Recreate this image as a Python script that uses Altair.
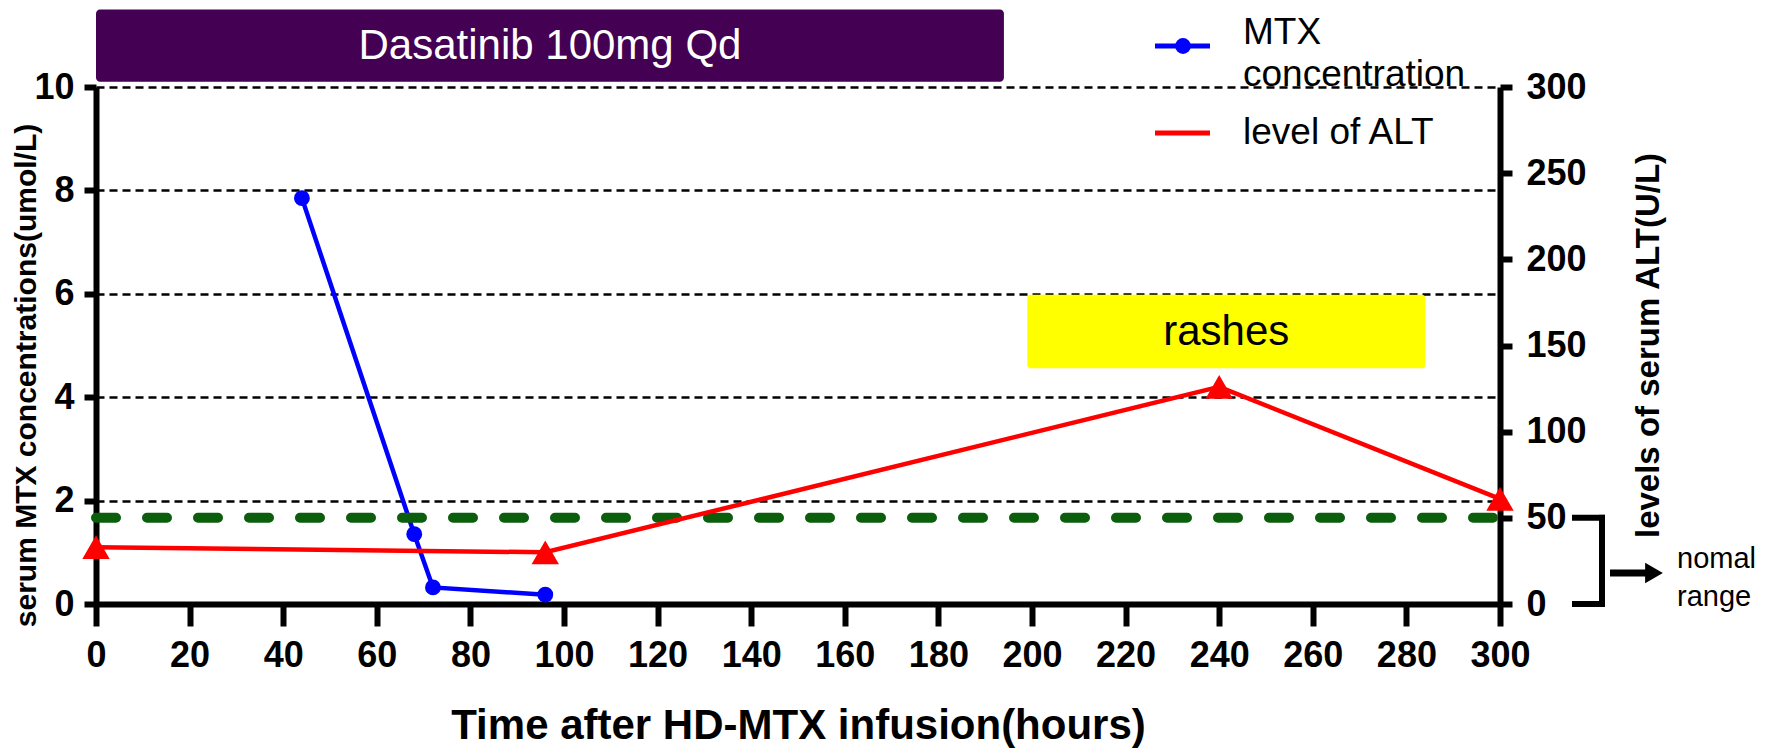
import altair as alt
import pandas as pd

F = "Liberation Sans"

# ---- data ----
mtx_hours = [44, 68, 72, 96]
mtx_conc = [7.85, 1.35, 0.32, 0.18]

alt_hours = [0, 96, 240, 300]
alt_level = [33, 30, 126, 61]

normal_upper = 50          # ALT upper limit of normal range (U/L)
normal_lower = 0

drug_label = ["Dasatinib 100mg Qd"]
drug_start = [0]
drug_end = [194]

rash_label = ["rashes"]
rash_start = [199]
rash_end = [284]
rash_low = [4.56]
rash_high = [5.98]

legend_labels = ["MTX\nconcentration", "level of ALT"]
range_label = ["nomal\nrange"]

x_ticks = list(range(0, 301, 20))
yl_ticks = [0, 2, 4, 6, 8, 10]
yr_ticks = [0, 50, 100, 150, 200, 250, 300]

# ---- scales & axes ----
xs = alt.Scale(domain=[0, 300], nice=False, zero=False)
yls = alt.Scale(domain=[0, 10], nice=False)
yrs = alt.Scale(domain=[0, 300], nice=False)

common = dict(
    domainColor="black", domainWidth=6, tickColor="black", tickWidth=6,
    labelFont=F, labelFontSize=36, labelFontWeight="bold", labelColor="black",
    labelFlush=False, labelOverlap=False,
    titleFont=F, titleFontWeight="bold", titleColor="black",
)

x_axis = alt.Axis(values=x_ticks, grid=False, tickSize=22, labelPadding=12,
                  title="Time after HD-MTX infusion(hours)", titleFontSize=42,
                  titleY=134, titleBaseline="alphabetic", **common)
yl_axis = alt.Axis(orient="left", values=yl_ticks, grid=True, gridColor="black",
                   gridDash=[8, 5], gridWidth=2.5, tickSize=12, labelPadding=10,
                   title="serum MTX concentrations(umol/L)", titleFontSize=30,
                   titleX=-61, titleY=288, titleBaseline="alphabetic", **common)
yr_axis = alt.Axis(orient="right", values=yr_ticks, grid=False, tickSize=12,
                   labelPadding=14, title="levels of serum ALT(U/L)",
                   titleFontSize=33, titleAngle=270, titleX=158, titleY=258,
                   titleBaseline="alphabetic", **common)

df_mtx = pd.DataFrame({"hours": mtx_hours, "conc": mtx_conc})
df_alt = pd.DataFrame({"hours": alt_hours, "level": alt_level})
df_drug = pd.DataFrame({
    "start": drug_start, "end": drug_end, "label": drug_label,
    "low": [10.1], "high": [11.5],
})
df_drug["mid"] = (df_drug["start"] + df_drug["end"]) / 2
df_drug["ymid"] = (df_drug["low"] + df_drug["high"]) / 2
df_rash = pd.DataFrame({
    "start": rash_start, "end": rash_end, "label": rash_label,
    "low": rash_low, "high": rash_high,
})
df_rash["mid"] = (df_rash["start"] + df_rash["end"]) / 2
df_rash["ymid"] = (df_rash["low"] + df_rash["high"]) / 2
df_norm = pd.DataFrame({"x0": [0], "x1": [300], "upper": [normal_upper],
                        "lower": [normal_lower], "arrow": [18], "texty": [26],
                        "label": range_label})
df_one = pd.DataFrame({"a": [0]})


def X(f):
    return alt.X(f, scale=xs, axis=x_axis)


def YL(f):
    return alt.Y(f, scale=yls, axis=yl_axis)


def YR(f):
    return alt.Y(f, scale=yrs, axis=yr_axis)


# ---- left (MTX) layer ----
mtx_line = alt.Chart(df_mtx).mark_line(color="#0000ff", strokeWidth=4.5).encode(
    x=X("hours:Q"), y=YL("conc:Q"))
mtx_pts = alt.Chart(df_mtx).mark_point(filled=True, shape="circle", size=250,
                                       color="#0000ff", opacity=1).encode(
    x=X("hours:Q"), y=YL("conc:Q"))

drug_rect = alt.Chart(df_drug).mark_rect(color="#440154", cornerRadius=4).encode(
    x=X("start:Q"), x2="end:Q", y=YL("low:Q"), y2="high:Q")
drug_text = alt.Chart(df_drug).mark_text(color="white", font=F, fontSize=42,
                                         baseline="middle").encode(
    x=X("mid:Q"), y=YL("ymid:Q"), text="label:N")

rash_rect = alt.Chart(df_rash).mark_rect(color="#ffff00", cornerRadius=3).encode(
    x=X("start:Q"), x2="end:Q", y=YL("low:Q"), y2="high:Q")
rash_text = alt.Chart(df_rash).mark_text(color="black", font=F, fontSize=42,
                                         baseline="middle").encode(
    x=X("mid:Q"), y=YL("ymid:Q"), text="label:N")

# legend (drawn manually)
leg_blue = alt.Chart(df_one).mark_rule(color="#0000ff", strokeWidth=5).encode(
    x=alt.value(1059), x2=alt.value(1114), y=alt.value(-41))
leg_dot = alt.Chart(df_one).mark_point(filled=True, shape="circle", size=250,
                                       color="#0000ff", opacity=1).encode(
    x=alt.value(1087), y=alt.value(-41))
leg_red = alt.Chart(df_one).mark_rule(color="#ff0000", strokeWidth=5).encode(
    x=alt.value(1059), x2=alt.value(1114), y=alt.value(46))
leg_t1 = alt.Chart(df_one).mark_text(align="left", baseline="middle", font=F,
                                     fontSize=37, lineBreak="\n", lineHeight=42,
                                     color="black").encode(
    x=alt.value(1147), y=alt.value(-54), text=alt.value(legend_labels[0]))
leg_t2 = alt.Chart(df_one).mark_text(align="left", baseline="middle", font=F,
                                     fontSize=37, color="black").encode(
    x=alt.value(1147), y=alt.value(46), text=alt.value(legend_labels[1]))

left = alt.layer(mtx_line, drug_rect, drug_text, rash_rect, rash_text,
                 mtx_pts, leg_blue, leg_dot, leg_red, leg_t1, leg_t2)

# ---- right (ALT) layer ----
norm_line = alt.Chart(df_norm).mark_rule(color="#0b5e0b", strokeWidth=10,
                                         strokeDash=[20, 31],
                                         strokeCap="round").encode(
    x=X("x0:Q"), x2="x1:Q", y=YR("upper:Q"))
alt_line = alt.Chart(df_alt).mark_line(color="#ff0000", strokeWidth=4.5).encode(
    x=X("hours:Q"), y=YR("level:Q"))
alt_pts = alt.Chart(df_alt).mark_point(filled=True, shape="triangle-up", size=750,
                                       color="#ff0000", opacity=1).encode(
    x=X("hours:Q"), y=YR("level:Q"))

br_top = alt.Chart(df_norm).mark_rule(color="black", strokeWidth=6,
                                      strokeCap="square").encode(
    x=alt.value(1479), x2=alt.value(1506), y=YR("upper:Q"))
br_bot = alt.Chart(df_norm).mark_rule(color="black", strokeWidth=6,
                                      strokeCap="square").encode(
    x=alt.value(1479), x2=alt.value(1506), y=YR("lower:Q"))
br_v = alt.Chart(df_norm).mark_rule(color="black", strokeWidth=6,
                                    strokeCap="square").encode(
    x=alt.value(1506), y=YR("upper:Q"), y2="lower:Q")
arrow = alt.Chart(df_norm).mark_rule(color="black", strokeWidth=7).encode(
    x=alt.value(1514), x2=alt.value(1550), y=YR("arrow:Q"))
arrow_head = alt.Chart(df_norm).mark_point(shape="triangle-right", filled=True,
                                           size=420, color="black",
                                           opacity=1).encode(
    x=alt.value(1558), y=YR("arrow:Q"))
range_text = alt.Chart(df_norm).mark_text(align="left", baseline="middle",
                                          font=F, fontSize=29, lineBreak="\n",
                                          lineHeight=38, color="black").encode(
    x=alt.value(1581), y=YR("texty:Q"), text="label:N")

right = alt.layer(norm_line, alt_line, alt_pts, br_top, br_bot, br_v, arrow,
                  arrow_head, range_text)

chart = alt.layer(left, right).resolve_scale(y="independent").properties(
    width=1404, height=517,
    autosize=alt.AutoSizeParams(type="none"),
    padding={"left": 88, "top": 79, "right": 264, "bottom": 144},
    background="white",
).configure_view(stroke=None)

chart.save("out.html", embed_options={"renderer": "svg", "actions": False})
